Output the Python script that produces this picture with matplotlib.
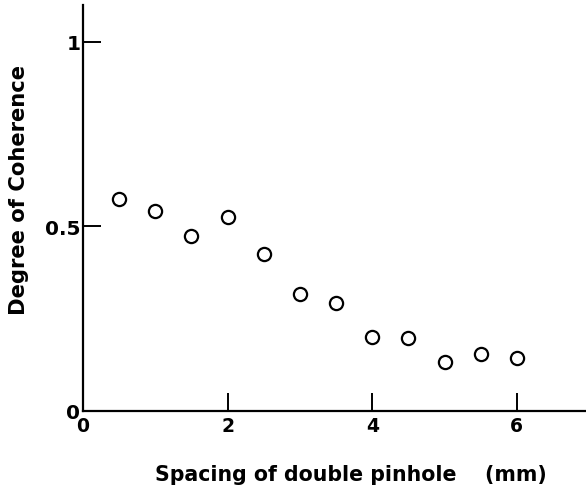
import matplotlib
matplotlib.use("Agg")
import matplotlib.pyplot as plt

spacing_mm = [0.5, 1.0, 1.5, 2.0, 2.5, 3.0, 3.5, 4.0, 4.5, 5.0, 5.5, 6.0]
coherence = [0.574, 0.541, 0.473, 0.524, 0.425, 0.316, 0.291, 0.200, 0.196, 0.133, 0.153, 0.143]
x_ticks = [0, 2, 4, 6]
x_tick_labels = ["0", "2", "4", "6"]
y_ticks = [0, 0.5, 1]
y_tick_labels = ["0", "0.5", "1"]

plt.rcParams['font.family'] = ['DejaVu Sans']
plt.rcParams['font.weight'] = 'bold'

fig = plt.figure(figsize=(5.86, 4.89), dpi=100)
ax = fig.add_axes([83/586, 77.3/489, 502.5/586, 406/489])

ax.plot(spacing_mm, coherence, linestyle='none', marker='o', markersize=9.5,
        markerfacecolor='white', markeredgecolor='black', markeredgewidth=1.6)

ax.set_xlim(0, 6.95)
ax.set_ylim(0, 1.1)
for s in ['top', 'right']:
    ax.spines[s].set_visible(False)
for s in ['left', 'bottom']:
    ax.spines[s].set_linewidth(1.6)

ax.set_xticks(x_ticks)
ax.set_xticklabels(x_tick_labels, fontsize=13.5, fontweight='bold')
ax.set_yticks(y_ticks)
ax.set_yticklabels(y_tick_labels, fontsize=14.5, fontweight='bold')
ax.tick_params(axis='both', direction='in', length=13, width=1.4, colors='black')
ax.tick_params(axis='x', pad=4)
ax.tick_params(axis='y', pad=2)

fig.text(155/586, 1 - 481/489, "Spacing of double pinhole    (mm)", ha='left', va='baseline',
         fontsize=14.8, fontweight='bold')
fig.text(25/586, 1 - 315/489, "Degree of Coherence", ha='left', va='baseline',
         rotation=90, rotation_mode='anchor', fontsize=15.2, fontweight='bold')

fig.savefig("out.png", dpi=100)
